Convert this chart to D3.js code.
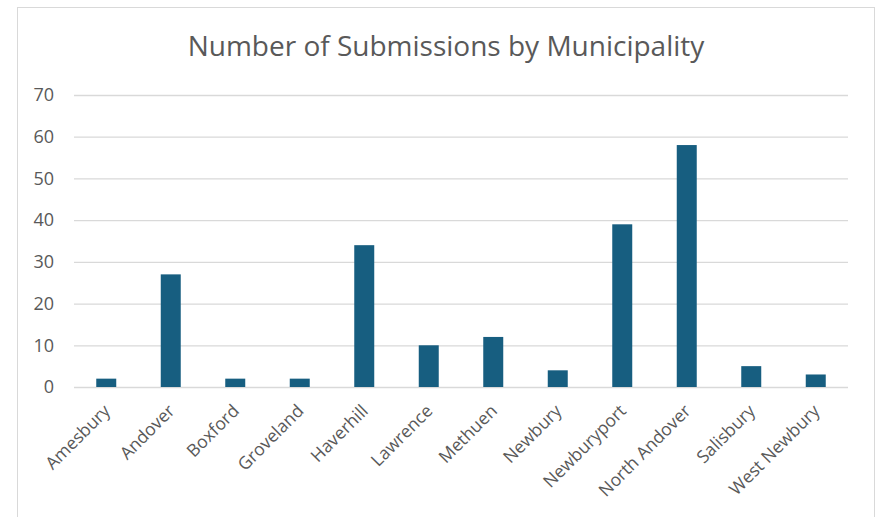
<!DOCTYPE html>
<html><head><meta charset="utf-8">
<script src="https://cdn.jsdelivr.net/npm/d3@7"></script>
<style>body{margin:0;background:#fff;}svg{display:block;font-family:"Open Sans",sans-serif;}</style>
</head><body><svg id="c" width="878" height="517"></svg>
<script>
const categories = ["Amesbury","Andover","Boxford","Groveland","Haverhill","Lawrence","Methuen","Newbury","Newburyport","North Andover","Salisbury","West Newbury"];
const values = [2,27,2,2,34,10,12,4,39,58,5,3];
const yTicks = [0,10,20,30,40,50,60,70];
const title = "Number of Submissions by Municipality";

const svg = d3.select("#c");
svg.append("rect").attr("x",17.5).attr("y",7.5).attr("width",857).attr("height",520)
  .attr("fill","#fff").attr("stroke","#d9d9d9");
const m = {l:74, r:848, t:95, b:387};
const x = d3.scaleBand().domain(categories).range([m.l,m.r]).paddingInner(0.69).paddingOuter(0.345);
const y = d3.scaleLinear().domain([0,70]).range([m.b,m.t]);

svg.append("text").attr("x",446).attr("y",56).attr("text-anchor","middle")
  .attr("font-size",28).attr("fill","#595959").text(title);

const ga = svg.append("g").attr("transform",`translate(${m.l},0)`)
  .call(d3.axisLeft(y).tickValues(yTicks).tickSize(-(m.r-m.l)).tickPadding(20));
ga.select(".domain").remove();
ga.selectAll(".tick line").attr("stroke","#d9d9d9").attr("stroke-width",1.3);
ga.selectAll(".tick text").attr("fill","#595959").attr("font-size",18).attr("font-family","Open Sans");

svg.append("g").selectAll("rect").data(values).join("rect")
  .attr("x",(d,i)=>x(categories[i])).attr("width",x.bandwidth())
  .attr("y",d=>y(d)).attr("height",d=>y(0)-y(d))
  .attr("fill","#175e80");

const gx = svg.append("g").attr("transform",`translate(0,${m.b})`)
  .call(d3.axisBottom(x).tickSize(0).tickPadding(0));
gx.select(".domain").remove();
gx.selectAll(".tick text").attr("fill","#595959").attr("font-size",17.5).attr("font-family","Open Sans")
  .attr("text-anchor","end").attr("dy",0).attr("y",0)
  .attr("transform","translate(5,25) rotate(-45)");
</script></body></html>
